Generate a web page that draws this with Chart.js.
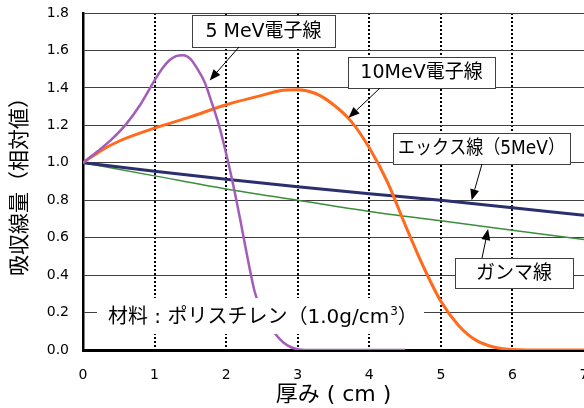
<!DOCTYPE html>
<html>
<head>
<meta charset="utf-8">
<script src="https://cdn.jsdelivr.net/npm/chart.js@4.4.1/dist/chart.umd.min.js"></script>
<style>
  html, body { margin: 0; padding: 0; background: #fff; }
  #wrap { width: 584px; height: 408px; position: relative; }
</style>
</head>
<body>
<div id="wrap"><canvas id="chart"></canvas></div>
<script>
// thickness (cm) and relative absorbed dose
const xTicks = [0, 1, 2, 3, 4, 5, 6, 7];
const yTicks = [0.0, 0.2, 0.4, 0.6, 0.8, 1.0, 1.2, 1.4, 1.6, 1.8];

const e5X = [0, 0.2, 0.4, 0.6, 0.8, 1.0, 1.1, 1.2, 1.3, 1.4, 1.5, 1.6, 1.7, 1.8, 1.9, 2.0, 2.1, 2.2, 2.3, 2.4, 2.5, 2.6, 2.7, 2.8, 2.9, 3.0, 3.1, 3.5, 4.0, 4.5];
const e5Y = [1.0, 1.06, 1.125, 1.205, 1.31, 1.44, 1.50, 1.545, 1.57, 1.575, 1.555, 1.50, 1.43, 1.32, 1.20, 1.05, 0.88, 0.69, 0.49, 0.31, 0.20, 0.135, 0.08, 0.04, 0.016, 0.004, 0, 0, 0, 0];

const e10X = [0, 0.25, 0.5, 1.0, 1.5, 2.0, 2.5, 2.75, 3.0, 3.25, 3.5, 3.75, 4.0, 4.25, 4.5, 4.75, 5.0, 5.25, 5.5, 5.75, 6.0, 6.5, 7.0];
const e10Y = [1.0, 1.065, 1.115, 1.185, 1.245, 1.31, 1.36, 1.385, 1.39, 1.37, 1.31, 1.22, 1.08, 0.90, 0.67, 0.45, 0.26, 0.13, 0.05, 0.015, 0.003, 0, 0];

const xrayX = [0, 1, 2, 3, 4, 5, 6, 7];
const xrayY = [1.0, 0.955, 0.912, 0.872, 0.835, 0.80, 0.76, 0.72];

const gammaX = [0, 1, 2, 3, 4, 5, 6, 7];
const gammaY = [1.0, 0.93, 0.86, 0.80, 0.74, 0.69, 0.64, 0.59];

const FONT = "'DejaVu Sans', 'Noto Sans CJK JP', sans-serif";

function pts(xs, ys) { return xs.map((x, i) => ({ x: x, y: ys[i] })); }

// callouts: box in pixels, arrow tip in data units
const callouts = [
    { text: '5 MeV電子線', box: [192, 15, 143, 32], from: [239, 47], tip: [1.77, 1.44] },
    { text: '10MeV電子線', box: [348, 57, 147, 31], from: [380, 88], tip: [3.71, 1.24] },
    { text: 'エックス線（5MeV）', box: [393, 133, 177, 31], from: [482, 164], tip: [5.43, 0.80] },
    { text: 'ガンマ線', box: [455, 258, 118, 30], from: [482, 258], tip: [5.66, 0.646] }
];

function arrow(ctx, x1, y1, x2, y2) {
    const a = Math.atan2(y2 - y1, x2 - x1);
    const len = 11, w = 4.5;
    const bx = x2 - len * Math.cos(a), by = y2 - len * Math.sin(a);
    ctx.strokeStyle = '#000';
    ctx.lineWidth = 1;
    ctx.beginPath();
    ctx.moveTo(x1, y1);
    ctx.lineTo(bx, by);
    ctx.stroke();
    ctx.fillStyle = '#000';
    ctx.beginPath();
    ctx.moveTo(x2, y2);
    ctx.lineTo(bx + w * Math.sin(a), by - w * Math.cos(a));
    ctx.lineTo(bx - w * Math.sin(a), by + w * Math.cos(a));
    ctx.closePath();
    ctx.fill();
}

const notes = {
    id: 'notes',
    afterDatasetsDraw(chart) {
        const ctx = chart.ctx;
        const sx = chart.scales.x, sy = chart.scales.y;
        ctx.save();

        // material label with white background
        ctx.fillStyle = '#fff';
        ctx.fillRect(97, 298, 327, 36);
        ctx.fillStyle = '#000';
        ctx.font = '20px ' + FONT;
        ctx.textBaseline = 'middle';
        ctx.textAlign = 'left';
        let tx = 108;
        const ty = 318;
        const main = '材料 : ポリスチレン（1.0g/cm';
        ctx.fillText(main, tx, ty);
        tx += ctx.measureText(main).width;
        ctx.font = '12px ' + FONT;
        ctx.fillText('3', tx + 1, ty - 6);
        tx += ctx.measureText('3').width + 1;
        ctx.font = '20px ' + FONT;
        ctx.fillText('）', tx, ty);

        callouts.forEach(c => {
            const [bx, by, bw, bh] = c.box;
            ctx.fillStyle = '#fff';
            ctx.fillRect(bx, by, bw, bh);
            ctx.strokeStyle = '#404040';
            ctx.lineWidth = 1;
            ctx.strokeRect(bx + 0.5, by + 0.5, bw, bh);
            ctx.fillStyle = '#000';
            ctx.font = '19px ' + FONT;
            ctx.textAlign = 'center';
            ctx.textBaseline = 'middle';
            ctx.fillText(c.text, bx + bw / 2, by + bh / 2 + 1, bw - 10);
            arrow(ctx, c.from[0], c.from[1], sx.getPixelForValue(c.tip[0]), sy.getPixelForValue(c.tip[1]));
        });
        ctx.restore();
    }
};

new Chart(document.getElementById('chart'), {
    type: 'line',
    data: {
        datasets: [
            { label: '5 MeV電子線', data: pts(e5X, e5Y), borderColor: '#A35CB8', borderWidth: 2.5 },
            { label: '10MeV電子線', data: pts(e10X, e10Y), borderColor: '#FF6A1C', borderWidth: 3 },
            { label: 'エックス線（5MeV）', data: pts(xrayX, xrayY), borderColor: '#2C2F6E', borderWidth: 3 },
            { label: 'ガンマ線', data: pts(gammaX, gammaY), borderColor: '#3B8E3B', borderWidth: 1.5 }
        ]
    },
    options: {
        responsive: true,
        maintainAspectRatio: false,
        animation: false,
        layout: { padding: { top: 13, right: 0, left: 0, bottom: 0 } },
        elements: {
            point: { radius: 0 },
            line: { cubicInterpolationMode: 'monotone', fill: false }
        },
        plugins: { legend: { display: false }, tooltip: { enabled: false } },
        scales: {
            x: {
                type: 'linear',
                min: 0, max: 7,
                afterBuildTicks: s => { s.ticks = xTicks.map(v => ({ value: v })); },
                afterFit: s => { s.height = 58; s.paddingLeft = 0; s.paddingRight = 0; },
                grid: {
                    drawTicks: false,
                    lineWidth: 2,
                    color: c => (c.tick && (c.tick.value === 0 || c.tick.value === 7)) ? 'rgba(0,0,0,0)' : '#000'
                },
                border: { display: true, color: '#000', width: 3, dash: [2, 2] },
                ticks: {
                    padding: 17,
                    color: '#000',
                    font: { family: FONT, size: 14 },
                    callback: v => String(v)
                },
                title: {
                    display: true,
                    text: '厚み ( cm )',
                    color: '#000',
                    font: { family: FONT, size: 22 },
                    padding: { top: 0, bottom: 0 }
                }
            },
            y: {
                min: 0, max: 1.8,
                afterBuildTicks: s => { s.ticks = yTicks.map(v => ({ value: v })); },
                afterFit: s => { s.width = 83; s.paddingTop = 0; s.paddingBottom = 0; },
                grid: { drawTicks: false, color: '#404040', lineWidth: 1 },
                border: { display: true, color: '#000', width: 2.5 },
                ticks: {
                    padding: 14,
                    color: '#000',
                    font: { family: FONT, size: 14 },
                    callback: v => v.toFixed(1)
                },
                title: {
                    display: true,
                    text: '吸収線量（相対値）',
                    color: '#000',
                    font: { family: FONT, size: 21 },
                    padding: { top: 8, bottom: 0 }
                }
            }
        }
    },
    plugins: [notes]
});
</script>
</body>
</html>
